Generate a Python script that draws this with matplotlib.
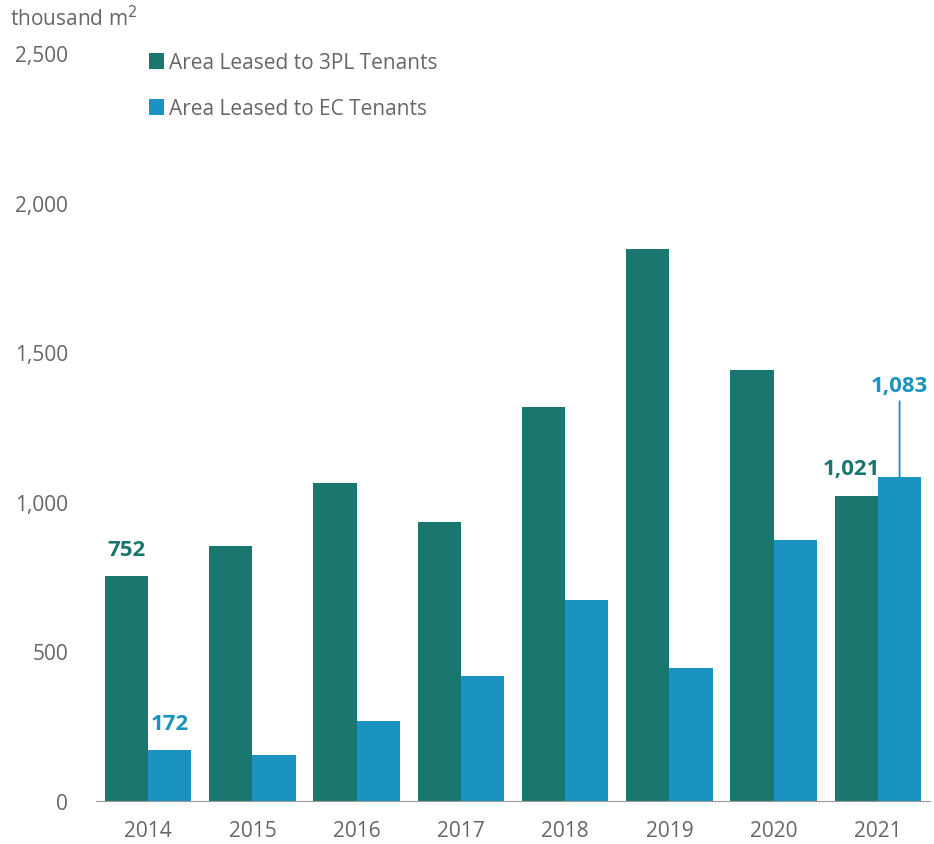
import numpy as np
import matplotlib
matplotlib.use('Agg')
import matplotlib.pyplot as plt

plt.rcParams['font.family'] = ['Open Sans', 'DejaVu Sans']

years = ['2014', '2015', '2016', '2017', '2018', '2019', '2020', '2021']
tpl_area = [752, 852, 1063, 933, 1317, 1846, 1441, 1021]
ec_area = [172, 154, 267, 418, 672, 445, 873, 1083]
yticks = [0, 500, 1000, 1500, 2000, 2500]

c_tpl = '#1a776f'
c_ec = '#1a93c1'
grey = '#666666'

fig = plt.figure(figsize=(9.34, 8.45), dpi=100)
ax = fig.add_axes([0.1028, 0.0509, 0.893, 0.885])

x = np.arange(len(years))
w = 0.415
ax.bar(x - w / 2, tpl_area, w, color=c_tpl, label='Area Leased to 3PL Tenants')
ax.bar(x + w / 2, ec_area, w, color=c_ec, label='Area Leased to EC Tenants')

ax.set_xlim(-0.5, 7.5)
ax.set_ylim(0, 2500)
ax.set_yticks(yticks)
ax.set_yticklabels(['{:,}'.format(v) for v in yticks])
ax.set_xticks(x)
ax.set_xticklabels(years)
ax.tick_params(length=0, labelsize=15, labelcolor=grey)
ax.tick_params(axis='y', pad=20)
ax.tick_params(axis='x', pad=14)
for s in ['top', 'right', 'left']:
    ax.spines[s].set_visible(False)
ax.spines['bottom'].set_color('#999999')

# data labels
lbl = dict(ha='center', va='bottom', fontsize=16, fontweight='bold')
ax.text(0 - w / 2, tpl_area[0] + 52, '{:,}'.format(tpl_area[0]), color=c_tpl, **lbl)
ax.text(0 + w / 2, ec_area[0] + 52, '{:,}'.format(ec_area[0]), color=c_ec, **lbl)
ax.text(7 - w / 2 - 0.05, tpl_area[7] + 55, '{:,}'.format(tpl_area[7]), color=c_tpl, **lbl)
ax.annotate('{:,}'.format(ec_area[7]), xy=(7 + w / 2, ec_area[7]), xytext=(7 + w / 2, 1355),
            color=c_ec, arrowprops=dict(arrowstyle='-', color=c_ec, lw=1.3, shrinkA=2, shrinkB=0,
                                        relpos=(0.5, 0.0)), **lbl)

fig.text(0.011, 0.978, 'thousand m$^2$', fontsize=15, color=grey, va='center', ha='left')

ax.legend(loc='upper left', bbox_to_anchor=(0.139, 0.959), bbox_transform=fig.transFigure,
          frameon=False, fontsize=15, labelcolor=grey, handlelength=0.75, handleheight=0.75,
          handletextpad=0.25, labelspacing=1.2)

fig.savefig('out.png', dpi=100)
